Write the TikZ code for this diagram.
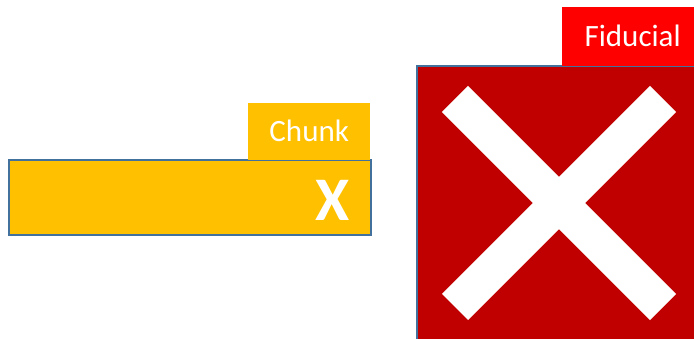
\documentclass[tikz,border=0pt]{standalone}
\usepackage{fontspec}
\setmainfont{Carlito}
\definecolor{gold}{HTML}{FFC000}
\definecolor{darkred}{HTML}{C00000}
\definecolor{brightred}{HTML}{FF0000}
\definecolor{edgeblue}{HTML}{41719C}
\begin{document}
\begin{tikzpicture}[x=1pt,y=1pt,
  panel/.style={draw=edgeblue, line width=2pt, inner sep=0pt, anchor=south west},
  tag/.style={inner sep=0pt, anchor=south west, text=white, font=\fontsize{31}{33}\selectfont},
  crossbar/.style={white, line width=37pt, line cap=butt}]
  \useasboundingbox (0,0) rectangle (694,339);
  \clip (0,0) rectangle (694,339);

  % chunk bar with its tag
  \node (bar) [panel, fill=gold, minimum width=362pt, minimum height=75pt] at (8,103) {};
  \node (chunktag) [tag, fill=gold, minimum width=122pt, minimum height=57pt] at (248,179) {\raisebox{-1pt}{Chunk}};
  \node (bigx) [text=white, font=\fontsize{62}{62}\selectfont\bfseries] at (333,139) {X};

  % fiducial square with its tag
  \node (square) [panel, fill=darkred, minimum width=300pt, minimum height=290pt] at (416,-18) {};
  \node (fidtag) [tag, fill=brightred, minimum width=140pt, minimum height=59pt] at (562,273) {\hspace*{1pt}Fiducial};

  % white cross inside the square
  \coordinate (c1) at (455,240);
  \coordinate (c2) at (663,32);
  \coordinate (c3) at (455,32);
  \coordinate (c4) at (663,240);
  \draw[crossbar] (c1) -- (c2);
  \draw[crossbar] (c3) -- (c4);
\end{tikzpicture}
\end{document}
